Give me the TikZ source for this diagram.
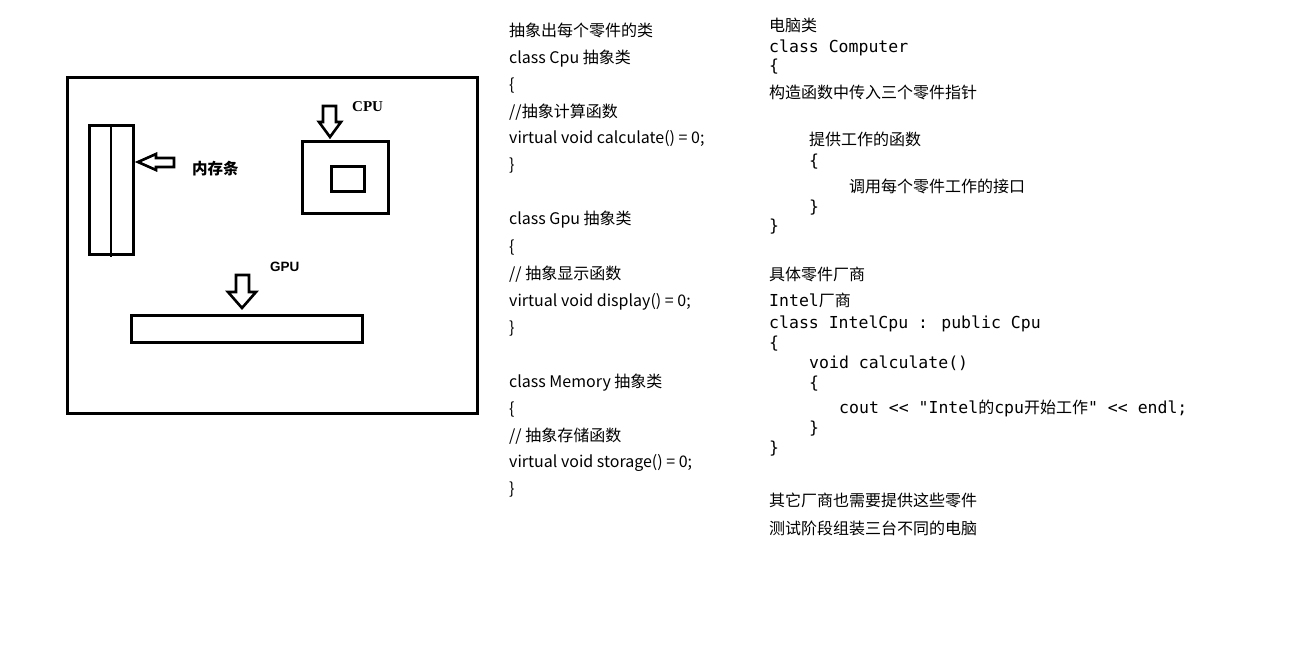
\documentclass[tikz,border=0pt]{standalone}
\usepackage{fontspec}
\setmainfont{Noto Sans CJK SC}
\newfontfamily\cjk{Noto Sans CJK SC}
\newfontfamily\monofam{DejaVu Sans Mono}
\newfontfamily\cpufont{Liberation Serif}
\newfontfamily\gpufont{Liberation Sans}
\newcommand\zh[1]{{\cjk\fontsize{16}{16}\selectfont #1}}
\begin{document}
\begin{tikzpicture}[x=1pt,y=-1pt,
  thick3/.style={draw=black, line width=3pt},
  thin2/.style={draw=black, line width=2pt},
  blockarrow/.style={draw=black, line width=2.6pt, line join=miter, fill=white},
  midtxt/.style={anchor=base west, inner sep=0pt, text=black, font=\cjk\fontsize{16}{16}\selectfont},
  zhtxt/.style={anchor=base west, inner sep=0pt, text=black, font=\cjk\fontsize{16}{16}\selectfont},
  codetxt/.style={anchor=base west, inner sep=0pt, text=black, font=\monofam\fontsize{16.5}{16.5}\selectfont},
  lbl/.style={anchor=west, inner sep=0pt, text=black}]
\useasboundingbox (0,0) rectangle (1301,647);
\fill[white] (0,0) rectangle (1301,647);

% motherboard
\draw[thick3] (67,78) rectangle (477,413);
% memory stick
\draw[thick3] (89,126) rectangle (133,254);
\draw[thin2] (111,126) -- (111,257);
% memory arrow
\draw[blockarrow] (138,162) -- (156,154) -- (156,158) -- (174,158) -- (174,167) -- (156,167) -- (156,170) -- cycle;
\node[lbl, font=\cjk\bfseries\fontsize{15.5}{15.5}\selectfont] (memlbl) at (192,169) {内存条};
% CPU socket
\draw[thick3] (302,142) rectangle (388,214);
\draw[thick3] (331,167) rectangle (364,192);
\draw[blockarrow] (323,106) -- (336,106) -- (336,122) -- (341,122) -- (330,137) -- (319,122) -- (323,122) -- cycle;
\node[lbl, font=\cpufont\bfseries\fontsize{15}{15}\selectfont] (cpulbl) at (352,107) {CPU};
% GPU slot
\draw[thick3] (131,315) rectangle (362,342);
\draw[blockarrow] (236,275) -- (249,275) -- (249,292) -- (256,292) -- (242,308) -- (228,292) -- (236,292) -- cycle;
\node[lbl, font=\gpufont\bfseries\fontsize{13.5}{13.5}\selectfont] (gpulbl) at (270,267) {GPU};

% middle column
\node[midtxt] (m1) at (509,37) {抽象出每个零件的类};
\node[midtxt] (m2) at (509,63.5) {class Cpu 抽象类};
\node[midtxt] (m3) at (509,90.5) {\{};
\node[midtxt] (m4) at (509,117.5) {//抽象计算函数};
\node[midtxt] (m5) at (509,144) {virtual void calculate() = 0;};
\node[midtxt] (m6) at (509,171) {\}};
\node[midtxt] (m7) at (509,225) {class Gpu 抽象类};
\node[midtxt] (m8) at (509,252) {\{};
\node[midtxt] (m9) at (509,279.5) {// 抽象显示函数};
\node[midtxt] (m10) at (509,306) {virtual void display() = 0;};
\node[midtxt] (m11) at (509,333) {\}};
\node[midtxt] (m12) at (509,387.5) {class Memory 抽象类};
\node[midtxt] (m13) at (509,414.5) {\{};
\node[midtxt] (m14) at (509,441.5) {// 抽象存储函数};
\node[midtxt] (m15) at (509,467.5) {virtual void storage() = 0;};
\node[midtxt] (m16) at (509,494.5) {\}};

% right column
\node[zhtxt] (r1) at (769,32) {电脑类};
\node[codetxt] (r2) at (769,52.5) {class Computer};
\node[codetxt] (r3) at (769,72) {\{};
\node[zhtxt] (r4) at (769,98.5) {构造函数中传入三个零件指针};
\node[zhtxt] (r5) at (809,145.5) {提供工作的函数};
\node[codetxt] (r6) at (809,166.5) {\{};
\node[zhtxt] (r7) at (849,192.5) {调用每个零件工作的接口};
\node[codetxt] (r8) at (809,213) {\}};
\node[codetxt] (r9) at (769,232) {\}};
\node[zhtxt] (r10) at (769,280) {具体零件厂商};
\node[codetxt] (r11) at (769,306.5) {Intel\zh{厂商}};
\node[codetxt] (r12) at (769,328) {class IntelCpu : public Cpu};
\node[codetxt] (r13) at (769,348) {\{};
\node[codetxt] (r14) at (809,368) {void calculate()};
\node[codetxt] (r15) at (809,388) {\{};
\node[codetxt] (r16) at (839,413) {cout << "Intel\zh{的}cpu\zh{开始工作}" << endl;};
\node[codetxt] (r17) at (809,433) {\}};
\node[codetxt] (r18) at (769,453) {\}};
\node[zhtxt] (r19) at (769,506.5) {其它厂商也需要提供这些零件};
\node[zhtxt] (r20) at (769,534) {测试阶段组装三台不同的电脑};
\end{tikzpicture}
\end{document}
